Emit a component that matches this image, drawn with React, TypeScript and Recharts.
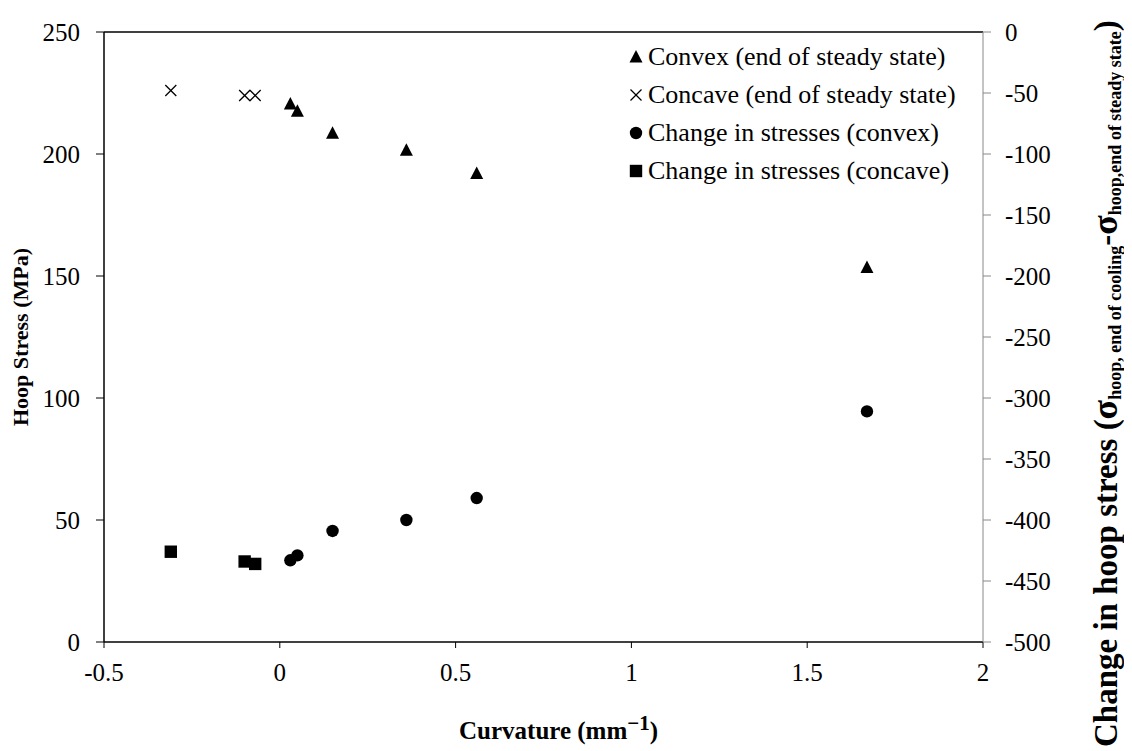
import React from 'react';
import { ComposedChart, Scatter, XAxis, YAxis, ReferenceLine } from 'recharts';

// Curvature (mm^-1)
const convexCurv = [0.03, 0.05, 0.15, 0.36, 0.56, 1.67];
const concaveCurv = [-0.31, -0.1, -0.07];
// Hoop stress at end of steady state (MPa, left axis)
const convexSteady = [220.5, 217.5, 208.5, 201.5, 192, 153.5];
const concaveSteady = [226, 224, 224];
// Change in hoop stress (MPa, right axis)
const changeConvex = [-433, -429, -409, -400, -382, -311];
const changeConcave = [-426, -434, -436];

const xTicks = [-0.5, 0, 0.5, 1, 1.5, 2];
const leftTicks = [0, 50, 100, 150, 200, 250];
const rightTicks = [-500, -450, -400, -350, -300, -250, -200, -150, -100, -50, 0];

const legendLabels = [
  'Convex (end of steady state)',
  'Concave (end of steady state)',
  'Change in stresses (convex)',
  'Change in stresses (concave)',
];

const convexSteadyData = convexCurv.map((x, i) => ({ x, y: convexSteady[i] }));
const concaveSteadyData = concaveCurv.map((x, i) => ({ x, y: concaveSteady[i] }));
const changeConvexData = convexCurv.map((x, i) => ({ x, y: changeConvex[i] }));
const changeConcaveData = concaveCurv.map((x, i) => ({ x, y: changeConcave[i] }));

const FONT = 'Liberation Serif, Times New Roman, serif';

const drawTriangle = (cx: number, cy: number) => (
  <path d={`M${cx},${cy - 7} L${cx + 6.5},${cy + 5.5} L${cx - 6.5},${cy + 5.5} Z`} fill="#000" />
);
const drawX = (cx: number, cy: number) => (
  <g stroke="#000" strokeWidth={1.3}>
    <line x1={cx - 5.5} y1={cy - 5.5} x2={cx + 5.5} y2={cy + 5.5} />
    <line x1={cx - 5.5} y1={cy + 5.5} x2={cx + 5.5} y2={cy - 5.5} />
  </g>
);
const drawDot = (cx: number, cy: number) => <circle cx={cx} cy={cy} r={6.2} fill="#000" />;
const drawSquare = (cx: number, cy: number) => (
  <rect x={cx - 6.2} y={cy - 6.2} width={12.4} height={12.4} fill="#000" />
);

const markers = [drawTriangle, drawX, drawDot, drawSquare];

const Triangle = (p: any) => drawTriangle(p.cx, p.cy);
const XMark = (p: any) => drawX(p.cx, p.cy);
const Dot = (p: any) => drawDot(p.cx, p.cy);
const Square = (p: any) => drawSquare(p.cx, p.cy);

const LegendBlock = () => (
  <g>
    {legendLabels.map((l, i) => (
      <g key={l}>
        {markers[i](628, 49 + i * 38)}
        <text x={640} y={57 + i * 38} fontFamily={FONT} fontSize={26} fill="#000">
          {l}
        </text>
      </g>
    ))}
  </g>
);

const LeftTitle = () => (
  <text
    transform="rotate(-90, 20, 329)"
    x={20}
    y={329}
    textAnchor="middle"
    fontFamily={FONT}
    fontWeight="bold"
    fontSize={22}
    fill="#000"
  >
    Hoop Stress (MPa)
  </text>
);

const BottomTitle = () => (
  <text x={451} y={731} textAnchor="start" fontFamily={FONT} fontWeight="bold" fontSize={25} fill="#000">
    Curvature (mm
    <tspan fontSize={21} dy={-9}>−1</tspan>
    <tspan dy={9}>)</tspan>
  </text>
);

const RightTitle = () => (
  <text
    transform="rotate(-90, 1109, 739)"
    x={1109}
    y={739}
    textAnchor="start"
    fontFamily={FONT}
    fontWeight="bold"
    fontSize={33}
    fill="#000"
  >
    <tspan>Change in hoop stress (</tspan>
    <tspan fontSize={36}>σ</tspan>
    <tspan fontSize={18} dy={4}>hoop, end of cooling</tspan>
    <tspan dy={-4}>-</tspan>
    <tspan fontSize={36}>σ</tspan>
    <tspan fontSize={18} dy={4}>hoop,end of steady state</tspan>
    <tspan dy={-4}>)</tspan>
  </text>
);

export default function App() {
  const tickStyle = { fontFamily: FONT, fontSize: 25, fill: '#000' };
  return (
    <ComposedChart width={1124} height={743} margin={{ top: 24, right: 0, bottom: 0, left: 0 }}>
      <XAxis
        type="number"
        dataKey="x"
        domain={[-0.5, 2]}
        ticks={xTicks}
        allowDataOverflow
        height={109}
        tick={tickStyle}
        tickSize={6}
        tickMargin={15}
        axisLine={{ stroke: '#000', strokeWidth: 1.5 }}
        tickLine={{ stroke: '#000' }}
      />
      <YAxis
        yAxisId="left"
        type="number"
        dataKey="y"
        domain={[0, 250]}
        ticks={leftTicks}
        width={96}
        tick={tickStyle}
        tickSize={8}
        tickMargin={16}
        axisLine={{ stroke: '#000', strokeWidth: 1.5 }}
        tickLine={{ stroke: '#000' }}
      />
      <YAxis
        yAxisId="right"
        orientation="right"
        type="number"
        dataKey="y"
        domain={[-500, 0]}
        ticks={rightTicks}
        width={149}
        tick={{ ...tickStyle, textAnchor: 'start' }}
        tickSize={8}
        tickMargin={14}
        axisLine={{ stroke: '#888' }}
        tickLine={{ stroke: '#888' }}
      />
      <ReferenceLine yAxisId="left" y={250} stroke="#000" strokeWidth={1.5} />
      <Scatter name={legendLabels[0]} yAxisId="left" data={convexSteadyData} shape={Triangle} isAnimationActive={false} />
      <Scatter name={legendLabels[1]} yAxisId="left" data={concaveSteadyData} shape={XMark} isAnimationActive={false} />
      <Scatter name={legendLabels[2]} yAxisId="right" data={changeConvexData} shape={Dot} isAnimationActive={false} />
      <Scatter name={legendLabels[3]} yAxisId="right" data={changeConcaveData} shape={Square} isAnimationActive={false} />
      <LegendBlock />
      <LeftTitle />
      <BottomTitle />
      <RightTitle />
    </ComposedChart>
  );
}
